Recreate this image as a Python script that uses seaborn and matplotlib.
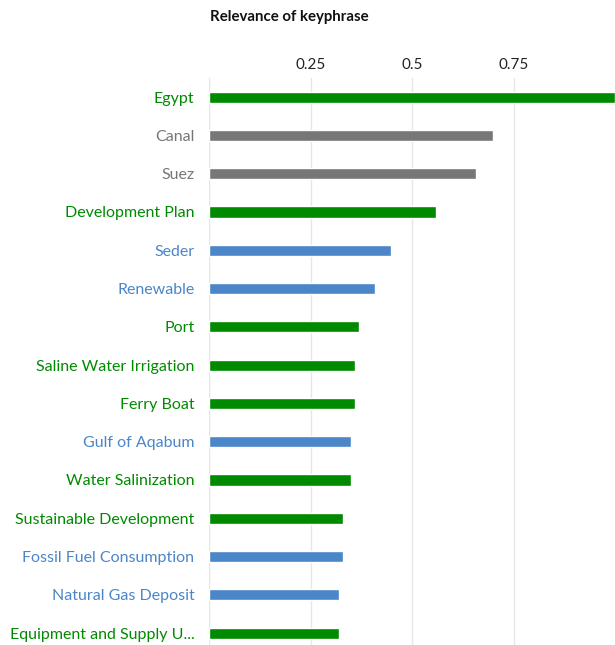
import matplotlib
matplotlib.use("Agg")
import matplotlib.pyplot as plt
import seaborn as sns
import pandas as pd

keyphrases = ["Egypt", "Canal", "Suez", "Development Plan", "Seder", "Renewable", "Port",
              "Saline Water Irrigation", "Ferry Boat", "Gulf of Aqabum", "Water Salinization",
              "Sustainable Development", "Fossil Fuel Consumption", "Natural Gas Deposit",
              "Equipment and Supply U..."]
relevance = [1.0, 0.70, 0.657, 0.559, 0.448, 0.409, 0.369, 0.36, 0.36, 0.35, 0.35,
             0.33, 0.33, 0.32, 0.32]
groups = ["green", "gray", "gray", "green", "blue", "blue", "green", "green", "green",
          "blue", "green", "green", "blue", "blue", "green"]
group_colors = {"green": "#008a00", "gray": "#777777", "blue": "#4a86c8"}
x_ticks = [0.25, 0.5, 0.75]
x_ticklabels = ["0.25", "0.5", "0.75"]

df = pd.DataFrame({"keyphrase": keyphrases, "relevance": relevance, "group": groups})

sns.set_theme(style="white")
plt.rcParams["font.family"] = ["Lato", "DejaVu Sans"]

fig = plt.figure(figsize=(6.15, 6.45), dpi=100)
ax = fig.add_axes([209 / 615, 0, 406 / 615, 1 - 78 / 645])

sns.barplot(data=df, y="keyphrase", x="relevance", hue="group", palette=group_colors,
            saturation=1, dodge=False, width=0.29, legend=False, ax=ax, orient="h")

ax.set_xlim(0, 1.0)
ax.set_ylim(14.31, -0.5)
ax.xaxis.tick_top()
ax.set_xticks(x_ticks)
ax.set_xticklabels(x_ticklabels, fontsize=11, color="#222222")
ax.tick_params(axis="x", length=0, pad=4)
ax.tick_params(axis="y", length=0, pad=10.5)
ax.grid(axis="x", color="#e6e6e6", linewidth=1)
ax.set_axisbelow(True)
ax.axvline(0, color="#e6e6e6", linewidth=1, zorder=0)
for s in ax.spines.values():
    s.set_visible(False)
ax.set_xlabel("")
ax.set_ylabel("")
for lbl, g in zip(ax.get_yticklabels(), groups):
    lbl.set_color(group_colors[g])
    lbl.set_fontsize(11.5)

fig.text(210 / 615, 1 - 17 / 645, "Relevance of keyphrase", fontsize=10.8, fontweight="bold",
         color="#111111", ha="left", va="center")

fig.savefig("out.png", dpi=100)
